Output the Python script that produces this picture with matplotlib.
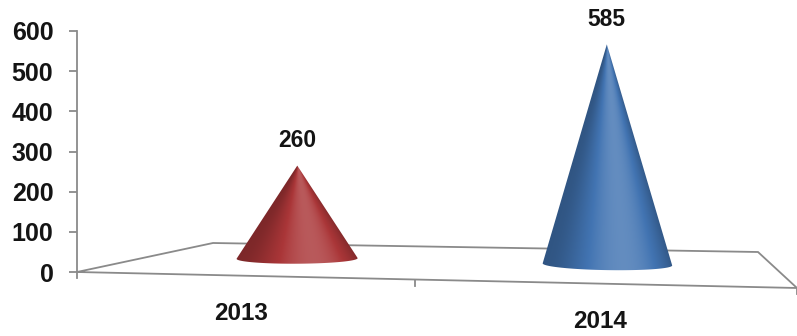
import numpy as np
import matplotlib
matplotlib.use("Agg")
import matplotlib.pyplot as plt
from matplotlib.path import Path
from matplotlib.patches import PathPatch
from matplotlib.colors import to_rgb

plt.rcParams['font.family'] = ['Liberation Sans', 'DejaVu Sans']

# data
years = ['2013', '2014']
values = [260, 585]
yticks = [0, 100, 200, 300, 400, 500, 600]

cone_colors = ['#aa3638', '#4274b2']
axis_grey = '#8a8a8a'
text_col = '#141414'

W, H = 797, 336
fig = plt.figure(figsize=(W / 100, H / 100), dpi=100)

# floor of the 3d plot, corners in pixels (front-left, front-right, back-right, back-left)
floor_px = [(77, 272), (797, 288), (758, 252), (213, 243)]
ymax_px = 31


def homography(dst):
    src = [(0, 0), (1, 0), (1, 1), (0, 1)]
    A, b = [], []
    for (u, v), (x, y) in zip(src, dst):
        A.append([u, v, 1, 0, 0, 0, -u * x, -v * x])
        b.append(x)
        A.append([0, 0, 0, u, v, 1, -u * y, -v * y])
        b.append(y)
    h = np.linalg.solve(np.array(A, float), np.array(b, float))
    return np.append(h, 1).reshape(3, 3)


HM = homography(floor_px)


def project(u, v):
    u = np.atleast_1d(np.asarray(u, float))
    v = np.atleast_1d(np.asarray(v, float)) * np.ones_like(u)
    p = HM @ np.vstack([u, v, np.ones_like(u)])
    return p[0] / p[2], p[1] / p[2], p[2]


def hull(pts):
    pts = sorted(map(tuple, pts))

    def cross(o, a, b):
        return (a[0] - o[0]) * (b[1] - o[1]) - (a[1] - o[1]) * (b[0] - o[0])

    lower, upper = [], []
    for p in pts:
        while len(lower) >= 2 and cross(lower[-2], lower[-1], p) <= 0:
            lower.pop()
        lower.append(p)
    for p in reversed(pts):
        while len(upper) >= 2 and cross(upper[-2], upper[-1], p) <= 0:
            upper.pop()
        upper.append(p)
    return np.array(lower[:-1] + upper[:-1])


def shade(base, s):
    # s in [-1, 1] across the cone; light comes slightly from the right
    theta = np.arcsin(np.clip(s, -1, 1))
    f = 0.74 + 0.42 * np.cos(theta - 0.25) ** 3
    base = np.array(to_rgb(base))
    f = f[..., None]
    dark = base * f
    light = base + (1 - base) * (f - 1) * 1.1
    return np.clip(np.where(f < 1, dark, light), 0, 1)


# background axes in pixel units for the floor and the cones
bg = fig.add_axes([0, 0, 1, 1])
bg.set_xlim(0, W)
bg.set_ylim(H, 0)
bg.axis('off')

# value axis
ax = fig.add_axes([floor_px[0][0] / W, (H - floor_px[0][1]) / H, 0.01,
                   (floor_px[0][1] - ymax_px) / H])
ax.set_facecolor('none')
ax.set_ylim(0, 600)
ax.set_yticks(yticks)
ax.set_xticks([])
for side in ['top', 'right', 'bottom']:
    ax.spines[side].set_visible(False)
ax.spines['left'].set_color(axis_grey)
ax.spines['left'].set_linewidth(1.3)
ax.tick_params(axis='y', direction='out', length=6, width=1.3, color=axis_grey,
               pad=11, labelsize=18, labelcolor=text_col)
for lab in ax.get_yticklabels():
    lab.set_fontweight('bold')

px_per_unit = (floor_px[0][1] - ymax_px) / 600.0

# floor outline
fx = [p[0] for p in floor_px] + [floor_px[0][0]]
fy = [p[1] for p in floor_px] + [floor_px[0][1]]
bg.plot(fx, fy, color=axis_grey, lw=1.3, solid_joinstyle='miter')

# category ticks on the front edge
for u in [0.0, 0.5, 1.0]:
    tx, ty, _ = project(u, 0)
    bg.plot([tx[0], tx[0]], [ty[0], ty[0] + 6], color=axis_grey, lw=1.3)

n = len(years)
r_u, r_v = 0.099, 0.17
for i, (yr, val, col) in enumerate(zip(years, values, cone_colors)):
    u0 = (i + 0.5) / n
    cx, cy, w = project(u0, 0.5)
    cx, cy, w = cx[0], cy[0], w[0]
    t = np.linspace(0, 2 * np.pi, 240)
    bx, by, _ = project(u0 + r_u * np.cos(t), 0.5 + r_v * np.sin(t))
    ax_x, ax_y = cx, cy - val * px_per_unit / w
    poly = hull(np.column_stack([np.append(bx, ax_x), np.append(by, ax_y)]))
    patch = PathPatch(Path(np.vstack([poly, poly[:1]]), closed=True),
                      facecolor='none', edgecolor='none')
    bg.add_patch(patch)

    x0, x1 = bx.min() - 2, bx.max() + 2
    y0, y1 = ax_y - 2, by.max() + 2
    gx = np.linspace(x0, x1, 300)
    gy = np.linspace(y0, y1, 300)
    GX, GY = np.meshgrid(gx, gy)
    hw = (bx.max() - bx.min()) / 2
    frac = np.clip((GY - ax_y) / (cy - ax_y), 0.02, None)
    S = (GX - (ax_x + (cx - ax_x) * frac)) / (hw * frac)
    img = shade(col, S)
    im = bg.imshow(img, extent=(x0, x1, y1, y0), origin='upper',
                   interpolation='bilinear', aspect='auto', zorder=3)
    im.set_clip_path(patch)

    bg.text(ax_x, ax_y - 25, f'{val}', ha='center', va='center', fontsize=16.5,
            fontweight='bold', color=text_col, zorder=5)

    lx, ly, _ = project(u0, 0)
    bg.text(lx[0], ly[0] + 38, yr, ha='center', va='center', fontsize=17.5,
            fontweight='bold', color=text_col)

bg.set_xlim(0, W)
bg.set_ylim(H, 0)

fig.savefig('out.png', dpi=100)
